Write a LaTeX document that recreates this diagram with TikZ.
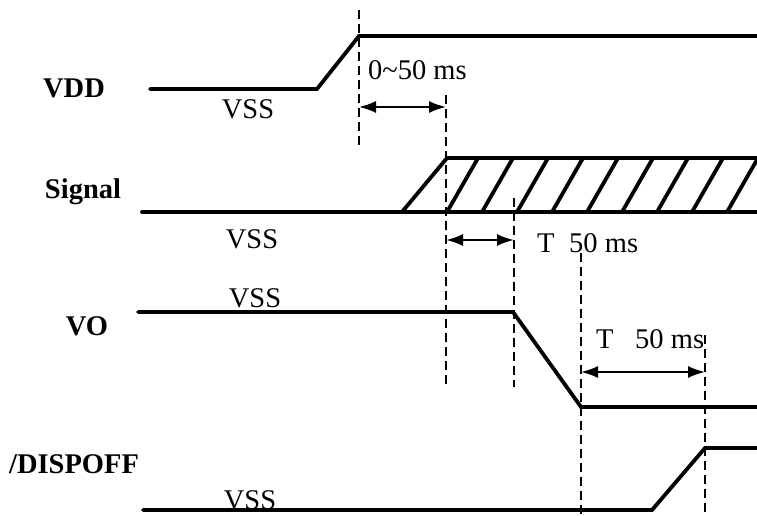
\documentclass[tikz,border=0pt]{standalone}
\usepackage{fontspec}
\setmainfont{Liberation Serif}
\usetikzlibrary{arrows.meta}

\begin{document}
\begin{tikzpicture}[x=1pt,y=-1pt,>={Latex[length=17pt,width=12pt]},font=\fontsize{28.5}{32}\selectfont]
    \tikzstyle{wave}=[line width=3.8pt,line cap=round,line join=miter]
    \tikzstyle{guide}=[line width=1.6pt,dash pattern=on 9pt off 5pt]
    \tikzstyle{span}=[<->,line width=1.9pt]
    \tikzstyle{signame}=[anchor=base,inner sep=0pt,font=\fontsize{28.5}{32}\selectfont\bfseries]
    \tikzstyle{level}=[anchor=base,inner sep=0pt]
    \tikzstyle{note}=[anchor=base west,inner sep=0pt]

    \useasboundingbox (0,0) rectangle (757,516);

    % Signal names
    \node[signame] (vdd) at (74,98) {VDD};
    \node[signame] (sig) at (83,198) {Signal};
    \node[signame] (vo) at (87,335) {VO};
    \node[signame] (dispoff) at (74,473) {/DISPOFF};

    % Levels
    \node[level] (vss1) at (248,118) {VSS};
    \node[level] (vss2) at (252,248) {VSS};
    \node[level] (vss3) at (255,307) {VSS};
    \node[level] (vss4) at (250,509) {VSS};

    % Waveforms
    \draw[wave] (150,89) -- (317,89) -- (359,36) -- (757,36);
    \draw[wave] (142,212) -- (757,212);
    \draw[wave] (757,158) -- (447,158) -- (402,212);
    \foreach \x in {447,482,...,727}
        \draw[wave] (\x,212) -- ++(31,-54);
    \draw[wave] (138,312) -- (513,312) -- (581,407) -- (757,407);
    \draw[wave] (143,510) -- (652,510) -- (705,448) -- (757,448);

    % Guides
    \draw[guide] (359,10) -- (359,145);
    \draw[guide] (446,95) -- (446,387);
    \draw[guide] (514,198) -- (514,387);
    \draw[guide] (581,253) -- (581,516);
    \draw[guide] (705,335) -- (705,516);

    % Intervals
    \coordinate (t0) at (359,107);
    \coordinate (t1) at (446,107);
    \coordinate (t2) at (446,240);
    \coordinate (t3) at (514,240);
    \coordinate (t4) at (581,372);
    \coordinate (t5) at (705,372);
    \draw[span] (t0) -- (t1);
    \draw[span] (t2) -- (t3);
    \draw[span] (t4) -- (t5);
    \node[note] (d1) at (368,80) {0\textasciitilde50 ms};
    \node[note] (d2) at (537,252) {T};
    \node[note] (d2b) at (569,252) {50 ms};
    \node[note] (d3) at (596,348) {T};
    \node[note] (d3b) at (635,348) {50 ms};
\end{tikzpicture}
\end{document}
